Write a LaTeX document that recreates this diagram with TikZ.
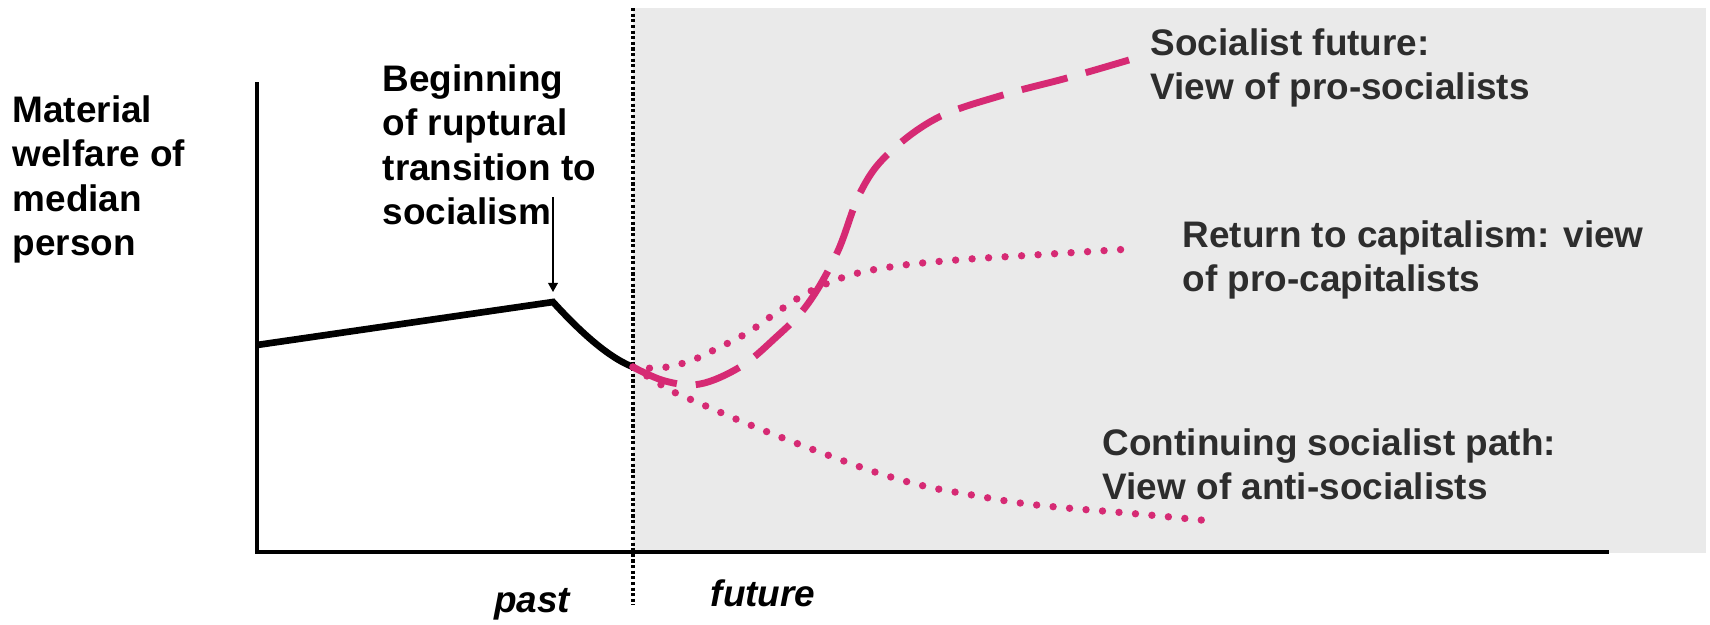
\documentclass[tikz,border=0pt]{standalone}
\usepackage{fontspec}
\setmainfont{Liberation Sans}
\usepackage{tikz}
\usetikzlibrary{arrows.meta}
\definecolor{viewpink}{RGB}{214,42,116}
\definecolor{futuregray}{RGB}{234,234,234}
\definecolor{viewgray}{RGB}{45,45,45}
\tikzset{axisline/.style={line width=1.3pt, line join=miter},  % the two axes
         welfare/.style={line width=1.9pt},                     % black path up to now
         divider/.style={line width=0.9pt,
           dash pattern=on 0.9pt off 0.7pt},                    % past / future split
         pointer/.style={line width=0.4pt,
           -{Triangle[length=2.6pt,width=2.8pt]},
           shorten >=2.85pt},
         socfuture/.style={draw=viewpink, line width=1.95pt,
           dash pattern=on 13.4pt off 5.4pt},                   % long dashes
         dotpath/.style={draw=viewpink, line width=2.1pt,
           line cap=round, dash pattern=on 0pt off 4.7pt},      % round dots
         boldtext/.style={inner sep=0pt,
           font=\fontsize{10.5}{12.6}\selectfont\bfseries}}

\begin{document}
\begin{tikzpicture}[x=0.01cm, y=-0.01cm]
\useasboundingbox (0,0) rectangle (1710,624);
\fill[futuregray] (633,8) rectangle (1706,553);

\coordinate (ytop) at (257,82);
\coordinate (origin) at (257,552);
\coordinate (xend) at (1609,552);
\coordinate (divtop) at (633,8);
\coordinate (divbot) at (633,605);
\coordinate (start) at (257,345);
\coordinate (peak) at (553,302);
\coordinate (split) at (633,367);
\coordinate (arrtop) at (553,197);
\coordinate (sfend) at (1129,60);
\coordinate (crend) at (1130,249);
\coordinate (spend) at (1211,521);

\draw[divider] (divtop) -- (divbot);
\draw[axisline] (ytop) -- (origin) -- (xend);
\draw[welfare] (start) -- (peak) .. controls (575,326) and (605,356) .. (split);
\draw[pointer] (arrtop) -- (peak);

\begin{scope}[every plot/.style={smooth, tension=0.6}]
    \draw[socfuture] plot coordinates {(split) (665,381) (700,384) (740,367)
        (773,340) (807,305) (837,253) (860,193) (887,155) (937,118)
        (1003,95) (1067,78) (sfend)};
    \draw[dotpath] plot coordinates {(split) (660,368) (690,361) (718,348)
        (747,333) (773,315) (800,297) (828,283) (858,273) (890,267)
        (922,263) (970,259) (1018,256) (1066,253) (crend)};
    \draw[dotpath] plot coordinates {(split) (670,390) (699,403) (743,422)
        (788,440) (833,457) (878,473) (924,486) (972,495) (1020,503)
        (1067,508) (1115,512) (1160,516) (spend)};
\end{scope}

\begin{scope}[every node/.style={boldtext, anchor=north west, align=left}]
    \node (ylabel) at (12,95) {Material\\welfare of\\median\\person};
    \node (rupture) at (382,64) {Beginning\\of ruptural\\transition to\\socialism};
    \node[text=viewgray] (sflabel) at (1150,28) {Socialist future:\\View of pro-socialists};
    \node[text=viewgray] (crlabel) at (1182,220) {Return to capitalism: view\\of pro-capitalists};
    \node[text=viewgray] (splabel) at (1102,428) {Continuing socialist path:\\View of anti-socialists};
\end{scope}

\begin{scope}[every node/.style={boldtext, anchor=base, font=\fontsize{10.5}{12.6}\selectfont\bfseries\itshape}]
    \node (past) at (532,612) {past};
    \node (future) at (763,606) {future};
\end{scope}
\end{tikzpicture}
\end{document}
